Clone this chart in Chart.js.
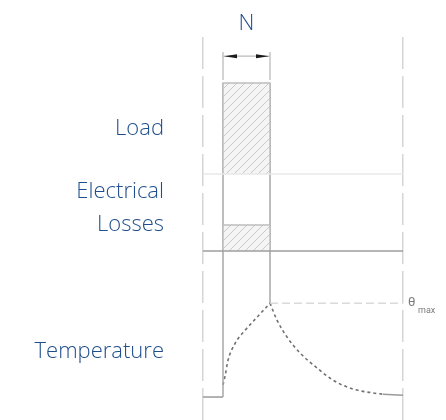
<!DOCTYPE html>
<html>
<head>
<meta charset="utf-8">
<script src="https://cdn.jsdelivr.net/npm/chart.js@4"></script>
<style>
  html, body { margin: 0; padding: 0; background: #fff; }
  #wrap { width: 446px; height: 420px; }
</style>
</head>
<body>
<div id="wrap"><canvas id="duty-chart"></canvas></div>
<script>
// time axis (arbitrary units); N = on period
const timeRange = [0, 10];
const onPeriod = [1, 3.35];

// load and electrical losses while running (relative)
const loadLevel = 1;
const lossLevel = 1;

// temperature rise relative to theta max
const heatTime = [1, 1.1, 1.25, 1.6, 2.1, 2.7, 3.35];
const heatTemp = [0.13, 0.22, 0.39, 0.57, 0.71, 0.85, 1.0];
const coolTime = [3.35, 3.7, 4.2, 4.85, 5.7, 6.5, 7.5, 8.5, 9.0];
const coolTemp = [1.0, 0.82, 0.64, 0.47, 0.31, 0.18, 0.085, 0.043, 0.03];
const endTemp = 0.02;

const rowLabels = ['Load', ['Electrical', 'Losses'], 'Temperature'];

// where each row sits on the 0..100 y scale
const loadRow = { base: 64.2, height: 23.8 };
const lossRow = { base: 44.1, height: 6.8 };
const tempRow = { base: 6.0, height: 24.5 };
const labelRowY = [76.0, 55.3, 17.8];
const arrowY = 95.0;
const arrowTick = [88.8, 96.1];
const nLabelY = 101.8;

const BLUE = '#1f4e8c';
const FONT = 'Open Sans';

var ctx = document.getElementById('duty-chart').getContext('2d');

function hatch() {
  var c = document.createElement('canvas');
  c.width = 8; c.height = 8;
  var g = c.getContext('2d');
  g.fillStyle = '#f5f5f5';
  g.fillRect(0, 0, 8, 8);
  g.strokeStyle = '#c9c9c9';
  g.lineWidth = 1;
  g.beginPath();
  g.moveTo(0, 8); g.lineTo(8, 0);
  g.moveTo(-1, 1); g.lineTo(1, -1);
  g.moveTo(7, 9); g.lineTo(9, 7);
  g.stroke();
  return ctx.createPattern(c, 'repeat');
}
var hatchFill = hatch();

function rowY(row, v) { return row.base + v * row.height; }
function tempY(v) { return rowY(tempRow, v); }

function seg(data, color, width, dash) {
  return {
    data: data,
    borderColor: color,
    borderWidth: width,
    borderDash: dash || [],
    pointRadius: 0,
    fill: false,
    tension: 0
  };
}

function box(row, level) {
  return {
    data: [
      {x: onPeriod[0], y: row.base},
      {x: onPeriod[0], y: rowY(row, level)},
      {x: onPeriod[1], y: rowY(row, level)},
      {x: onPeriod[1], y: row.base}
    ],
    borderColor: '#bdbdbd',
    borderWidth: 1.5,
    backgroundColor: hatchFill,
    fill: {value: row.base},
    pointRadius: 0,
    tension: 0
  };
}

function curve(times, temps) {
  var ds = seg(times.map((t, i) => ({x: t, y: tempY(temps[i])})), '#707070', 1.6, [3, 3]);
  ds.cubicInterpolationMode = 'monotone';
  return ds;
}

var datasets = [
  seg([{x: timeRange[0], y: loadRow.base}, {x: timeRange[1], y: loadRow.base}], '#e8e8e8', 1.5),
  seg([{x: timeRange[0], y: lossRow.base}, {x: timeRange[1], y: lossRow.base}], '#9e9e9e', 1.5),
  box(loadRow, loadLevel),
  box(lossRow, lossLevel),
  seg([{x: onPeriod[0], y: rowY(loadRow, loadLevel)}, {x: onPeriod[0], y: tempRow.base}], '#a8a8a8', 1.5),
  seg([{x: onPeriod[1], y: rowY(loadRow, loadLevel)}, {x: onPeriod[1], y: tempY(1)}], '#a8a8a8', 1.5),
  seg([{x: timeRange[0], y: tempRow.base}, {x: onPeriod[0], y: tempRow.base}], '#9a9a9a', 1.5),
  seg([{x: onPeriod[1], y: tempY(1)}, {x: timeRange[1], y: tempY(1)}], '#dadada', 1.5, [8, 4]),
  curve(heatTime, heatTemp),
  curve(coolTime, coolTemp),
  seg([{x: coolTime[coolTime.length - 1], y: tempY(coolTemp[coolTemp.length - 1])}, {x: timeRange[1], y: tempY(endTemp)}], '#9a9a9a', 1.5),
  seg([{x: onPeriod[0], y: arrowTick[0]}, {x: onPeriod[0], y: arrowTick[1]}], '#c4c4c4', 1.5),
  seg([{x: onPeriod[1], y: arrowTick[0]}, {x: onPeriod[1], y: arrowTick[1]}], '#c4c4c4', 1.5),
  seg([{x: onPeriod[0], y: arrowY}, {x: onPeriod[1], y: arrowY}], '#bbbbbb', 1.2)
];

const extras = {
  id: 'extras',
  afterDatasetsDraw(chart) {
    const {ctx, scales: {x, y}} = chart;
    const x0 = x.getPixelForValue(onPeriod[0]);
    const x1 = x.getPixelForValue(onPeriod[1]);
    const ya = y.getPixelForValue(arrowY);
    ctx.save();
    ctx.fillStyle = '#1a1a1a';
    [[x0, 1], [x1, -1]].forEach(([px, dir]) => {
      ctx.beginPath();
      ctx.moveTo(px + dir, ya);
      ctx.lineTo(px + 14 * dir, ya - 2);
      ctx.lineTo(px + 14 * dir, ya + 2);
      ctx.closePath();
      ctx.fill();
    });
    ctx.fillStyle = BLUE;
    ctx.font = '300 22px "' + FONT + '"';
    ctx.textAlign = 'center';
    ctx.textBaseline = 'alphabetic';
    ctx.fillText('N', (x0 + x1) / 2, y.getPixelForValue(nLabelY));
    const yt = y.getPixelForValue(tempY(1));
    ctx.fillStyle = '#7a7a7a';
    ctx.textAlign = 'left';
    ctx.font = '13px Roboto';
    ctx.fillText('\u03b8', x.right + 5, yt + 3);
    ctx.font = '9px Roboto';
    ctx.fillText('max', x.right + 15, yt + 10);
    ctx.restore();
  }
};

new Chart(ctx, {
  type: 'line',
  data: { datasets: datasets },
  plugins: [extras],
  options: {
    responsive: true,
    maintainAspectRatio: false,
    animation: false,
    layout: { padding: { top: 37, right: 43, left: 0, bottom: 0 } },
    plugins: {
      legend: { display: false },
      tooltip: { enabled: false }
    },
    scales: {
      x: {
        type: 'linear',
        min: timeRange[0],
        max: timeRange[1],
        afterBuildTicks: (s) => { s.ticks = timeRange.map(v => ({value: v})); },
        afterFit: (s) => { s.height = 0; s.paddingLeft = 0; s.paddingRight = 0; },
        grid: { color: '#d6d6d6', lineWidth: 1.5, drawTicks: false },
        border: { display: false, dash: [32, 7] },
        ticks: { display: false }
      },
      y: {
        type: 'linear',
        min: 0,
        max: 100,
        afterBuildTicks: (s) => { s.ticks = labelRowY.map(v => ({value: v})); },
        afterFit: (s) => { s.width = 203; s.paddingTop = 0; s.paddingBottom = 0; },
        grid: { display: false, drawTicks: false },
        border: { display: false },
        ticks: {
          autoSkip: false,
          padding: 39,
          color: BLUE,
          font: { family: FONT, size: 22, weight: 300, lineHeight: 1.52 },
          callback: (v, i) => rowLabels[i]
        }
      }
    }
  }
});
</script>
</body>
</html>
